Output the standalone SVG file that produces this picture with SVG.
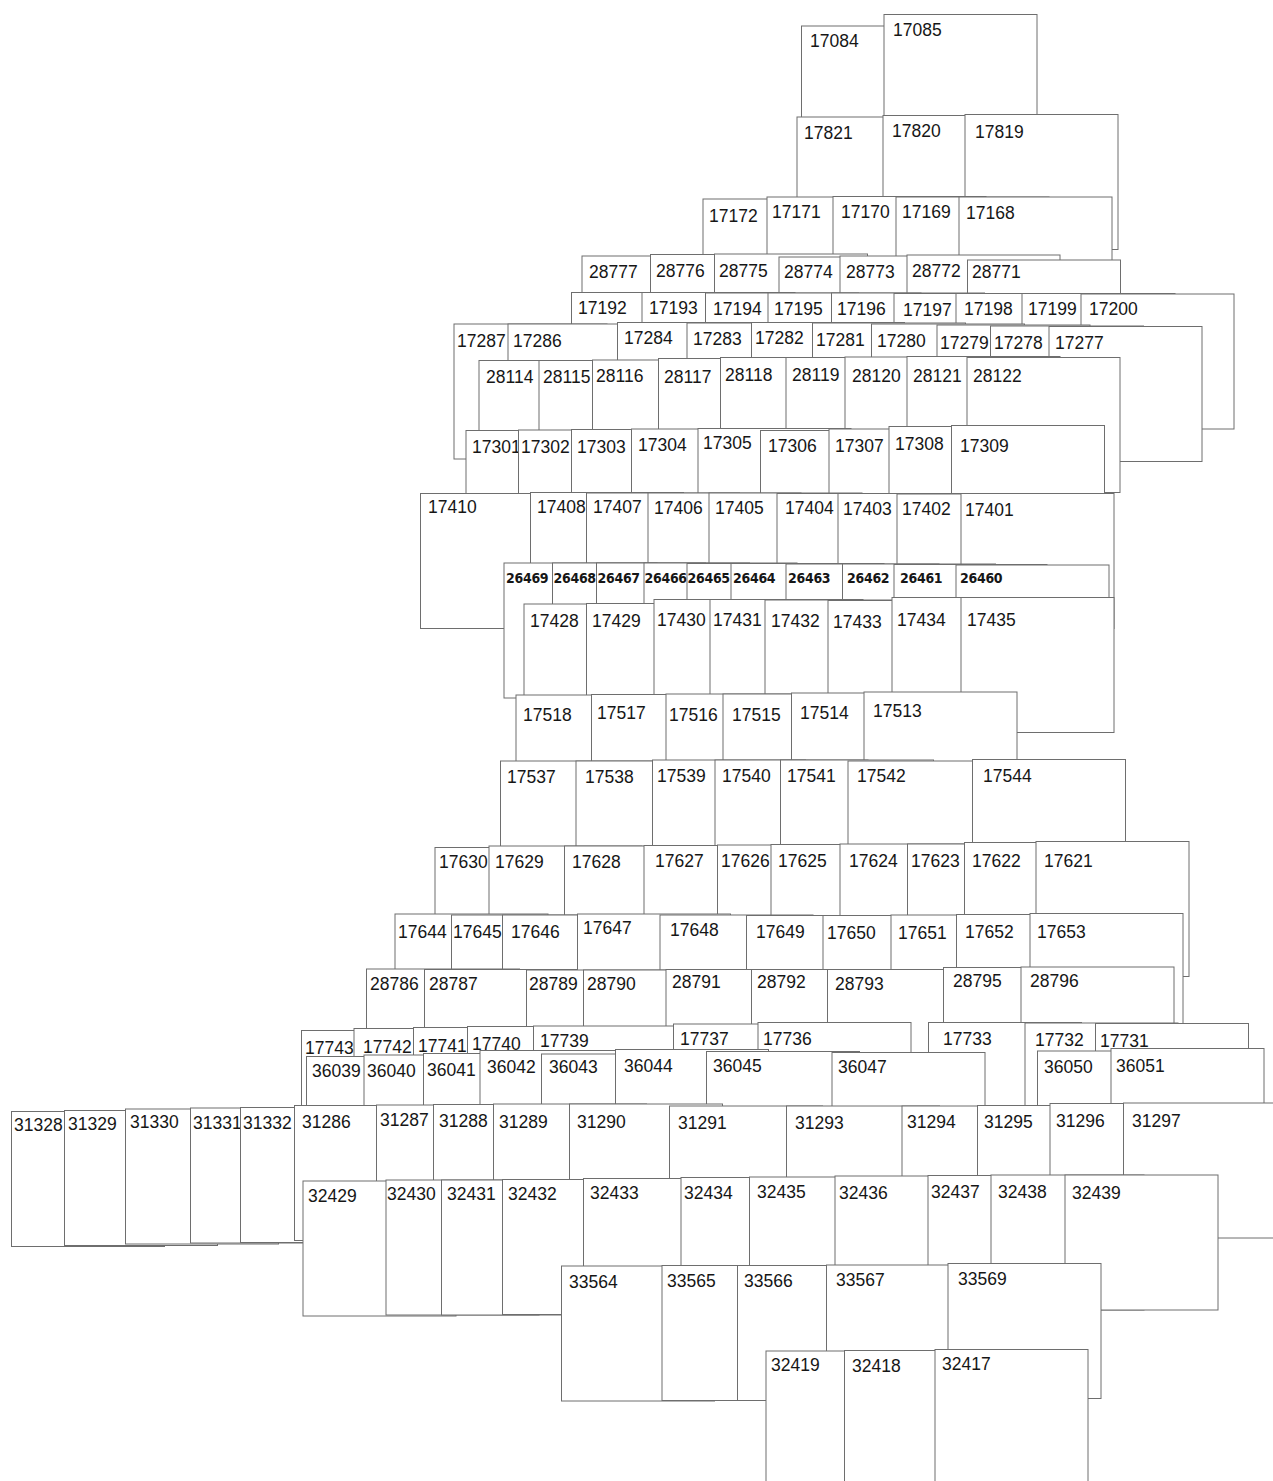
<svg xmlns="http://www.w3.org/2000/svg" xmlns:xlink="http://www.w3.org/1999/xlink" width="1273" height="1481" viewBox="0 0 1273 1481">
<style>
.fr{fill:#fff;stroke:#6e6e6e;stroke-width:1}
text{font-family:"Liberation Sans",Arial,sans-serif;font-size:17.5px;fill:#161616}
.s text{font-family:"DejaVu Sans Condensed","DejaVu Sans",sans-serif;font-stretch:condensed;font-weight:bold;font-size:14px;letter-spacing:-0.3px}
</style>
<defs><rect id="fr" class="fr" width="153" height="135"/></defs>
<rect width="1273" height="1481" fill="#fff"/>
<g id="row1">
<g id="n17084"><use href="#fr" x="801.5" y="26"/><text x="810" y="47">17084</text></g>
<g id="n17085"><use href="#fr" x="884" y="14.5"/><text x="893" y="36">17085</text></g>
</g>
<g id="row2">
<g id="n17821"><use href="#fr" x="797" y="117"/><text x="804" y="139">17821</text></g>
<g id="n17820"><use href="#fr" x="883" y="115.5"/><text x="892" y="137">17820</text></g>
<g id="n17819"><use href="#fr" x="965" y="114.5"/><text x="975" y="138">17819</text></g>
</g>
<g id="row3">
<g id="n17172"><use href="#fr" x="703" y="199"/><text x="709" y="222">17172</text></g>
<g id="n17171"><use href="#fr" x="767" y="197"/><text x="772" y="218">17171</text></g>
<g id="n17170"><use href="#fr" x="833" y="196.5"/><text x="841" y="218">17170</text></g>
<g id="n17169"><use href="#fr" x="896" y="197"/><text x="902" y="218">17169</text></g>
<g id="n17168"><use href="#fr" x="959" y="197"/><text x="966" y="219">17168</text></g>
</g>
<g id="row4">
<g id="n28777"><use href="#fr" x="582" y="256"/><text x="589" y="278">28777</text></g>
<g id="n28776"><use href="#fr" x="650.5" y="254.5"/><text x="656" y="277">28776</text></g>
<g id="n28775"><use href="#fr" x="714.5" y="254"/><text x="719" y="277">28775</text></g>
<g id="n28774"><use href="#fr" x="779" y="257"/><text x="784" y="278">28774</text></g>
<g id="n28773"><use href="#fr" x="840" y="256"/><text x="846" y="278">28773</text></g>
<g id="n28772"><use href="#fr" x="907" y="255"/><text x="912" y="277">28772</text></g>
<g id="n28771"><use href="#fr" x="967.5" y="260"/><text x="972" y="278">28771</text></g>
</g>
<g id="row5">
<g id="n17192"><use href="#fr" x="571.5" y="292.5"/><text x="578" y="314">17192</text></g>
<g id="n17193"><use href="#fr" x="642" y="292.5"/><text x="649" y="314">17193</text></g>
<g id="n17194"><use href="#fr" x="705.5" y="293"/><text x="713" y="315">17194</text></g>
<g id="n17195"><use href="#fr" x="768" y="293"/><text x="774" y="315">17195</text></g>
<g id="n17196"><use href="#fr" x="831.5" y="293"/><text x="837" y="315">17196</text></g>
<g id="n17197"><use href="#fr" x="894" y="293.5"/><text x="903" y="316">17197</text></g>
<g id="n17198"><use href="#fr" x="956" y="293.5"/><text x="964" y="315">17198</text></g>
<g id="n17199"><use href="#fr" x="1022" y="293.5"/><text x="1028" y="315">17199</text></g>
<g id="n17200"><use href="#fr" x="1081" y="294"/><text x="1089" y="315">17200</text></g>
</g>
<g id="row6">
<g id="n17287"><use href="#fr" x="454" y="324"/><text x="457" y="347">17287</text></g>
<g id="n17286"><use href="#fr" x="508" y="324"/><text x="513" y="347">17286</text></g>
<g id="n17284"><use href="#fr" x="617.5" y="322.5"/><text x="624" y="344">17284</text></g>
<g id="n17283"><use href="#fr" x="687" y="323"/><text x="693" y="345">17283</text></g>
<g id="n17282"><use href="#fr" x="751.5" y="322.5"/><text x="755" y="344">17282</text></g>
<g id="n17281"><use href="#fr" x="812.5" y="323"/><text x="816" y="346">17281</text></g>
<g id="n17280"><use href="#fr" x="871.5" y="324"/><text x="877" y="347">17280</text></g>
<g id="n17279"><use href="#fr" x="937" y="325"/><text x="940" y="349">17279</text></g>
<g id="n17278"><use href="#fr" x="990.5" y="326"/><text x="994" y="349">17278</text></g>
<g id="n17277"><use href="#fr" x="1049" y="326.5"/><text x="1055" y="349">17277</text></g>
</g>
<g id="row7">
<g id="n28114"><use href="#fr" x="479" y="360.5"/><text x="486" y="383">28114</text></g>
<g id="n28115"><use href="#fr" x="539" y="360.5"/><text x="543" y="383">28115</text></g>
<g id="n28116"><use href="#fr" x="592.5" y="360"/><text x="596" y="382">28116</text></g>
<g id="n28117"><use href="#fr" x="658.5" y="358.5"/><text x="664" y="383">28117</text></g>
<g id="n28118"><use href="#fr" x="720.5" y="357.5"/><text x="725" y="381">28118</text></g>
<g id="n28119"><use href="#fr" x="786" y="357.5"/><text x="792" y="381">28119</text></g>
<g id="n28120"><use href="#fr" x="845" y="357"/><text x="852" y="382">28120</text></g>
<g id="n28121"><use href="#fr" x="907" y="356.5"/><text x="913" y="382">28121</text></g>
<g id="n28122"><use href="#fr" x="967" y="357.5"/><text x="973" y="382">28122</text></g>
</g>
<g id="row8">
<g id="n17301"><use href="#fr" x="466" y="430.5"/><text x="472" y="453">17301</text></g>
<g id="n17302"><use href="#fr" x="518.5" y="430"/><text x="521" y="453">17302</text></g>
<g id="n17303"><use href="#fr" x="571.5" y="429.5"/><text x="577" y="453">17303</text></g>
<g id="n17304"><use href="#fr" x="631.5" y="429"/><text x="638" y="451">17304</text></g>
<g id="n17305"><use href="#fr" x="698" y="428.5"/><text x="703" y="449">17305</text></g>
<g id="n17306"><use href="#fr" x="760.5" y="430.5"/><text x="768" y="452">17306</text></g>
<g id="n17307"><use href="#fr" x="829" y="429"/><text x="835" y="452">17307</text></g>
<g id="n17308"><use href="#fr" x="889" y="426.5"/><text x="895" y="450">17308</text></g>
<g id="n17309"><use href="#fr" x="951.5" y="425.5"/><text x="960" y="452">17309</text></g>
</g>
<g id="row9">
<g id="n17410"><use href="#fr" x="420.5" y="493.5"/><text x="428" y="513">17410</text></g>
<g id="n17408"><use href="#fr" x="530.5" y="492.5"/><text x="537" y="513">17408</text></g>
<g id="n17407"><use href="#fr" x="586.5" y="493"/><text x="593" y="513">17407</text></g>
<g id="n17406"><use href="#fr" x="648" y="493"/><text x="654" y="514">17406</text></g>
<g id="n17405"><use href="#fr" x="709" y="493"/><text x="715" y="514">17405</text></g>
<g id="n17404"><use href="#fr" x="777" y="493.5"/><text x="785" y="514">17404</text></g>
<g id="n17403"><use href="#fr" x="838" y="493.5"/><text x="843" y="515">17403</text></g>
<g id="n17402"><use href="#fr" x="897" y="494"/><text x="902" y="515">17402</text></g>
<g id="n17401"><use href="#fr" x="961" y="493.5"/><text x="965" y="516">17401</text></g>
</g>
<g id="row10" class="s">
<g id="n26469"><use href="#fr" x="504" y="563"/><text x="506" y="583">26469</text></g>
<g id="n26468"><use href="#fr" x="552.5" y="563"/><text x="553.5" y="583">26468</text></g>
<g id="n26467"><use href="#fr" x="596.5" y="563"/><text x="597.5" y="583">26467</text></g>
<g id="n26466"><use href="#fr" x="644" y="563"/><text x="644.5" y="583">26466</text></g>
<g id="n26465"><use href="#fr" x="687" y="563.5"/><text x="687.5" y="583">26465</text></g>
<g id="n26464"><use href="#fr" x="731" y="563.5"/><text x="733" y="583">26464</text></g>
<g id="n26463"><use href="#fr" x="786" y="564"/><text x="788" y="583">26463</text></g>
<g id="n26462"><use href="#fr" x="842.5" y="564"/><text x="847" y="583">26462</text></g>
<g id="n26461"><use href="#fr" x="894" y="564.5"/><text x="900" y="583">26461</text></g>
<g id="n26460"><use href="#fr" x="956" y="565"/><text x="960" y="583">26460</text></g>
</g>
<g id="row11">
<g id="n17428"><use href="#fr" x="524" y="604"/><text x="530" y="627">17428</text></g>
<g id="n17429"><use href="#fr" x="586.5" y="603.5"/><text x="592" y="627">17429</text></g>
<g id="n17430"><use href="#fr" x="654" y="599.5"/><text x="657" y="626">17430</text></g>
<g id="n17431"><use href="#fr" x="710" y="599.5"/><text x="713" y="626">17431</text></g>
<g id="n17432"><use href="#fr" x="765" y="600"/><text x="771" y="627">17432</text></g>
<g id="n17433"><use href="#fr" x="828" y="600.5"/><text x="833" y="628">17433</text></g>
<g id="n17434"><use href="#fr" x="892" y="597.5"/><text x="897" y="626">17434</text></g>
<g id="n17435"><use href="#fr" x="961" y="597.5"/><text x="967" y="626">17435</text></g>
</g>
<g id="row12">
<g id="n17518"><use href="#fr" x="516" y="695"/><text x="523" y="721">17518</text></g>
<g id="n17517"><use href="#fr" x="591.5" y="694.5"/><text x="597" y="719">17517</text></g>
<g id="n17516"><use href="#fr" x="666" y="694"/><text x="669" y="721">17516</text></g>
<g id="n17515"><use href="#fr" x="723" y="694"/><text x="732" y="721">17515</text></g>
<g id="n17514"><use href="#fr" x="791.5" y="693"/><text x="800" y="719">17514</text></g>
<g id="n17513"><use href="#fr" x="864" y="692"/><text x="873" y="717">17513</text></g>
</g>
<g id="row13">
<g id="n17537"><use href="#fr" x="500.5" y="761"/><text x="507" y="783">17537</text></g>
<g id="n17538"><use href="#fr" x="576" y="761"/><text x="585" y="783">17538</text></g>
<g id="n17539"><use href="#fr" x="652.5" y="760"/><text x="657" y="782">17539</text></g>
<g id="n17540"><use href="#fr" x="715" y="760"/><text x="722" y="782">17540</text></g>
<g id="n17541"><use href="#fr" x="780.5" y="760"/><text x="787" y="782">17541</text></g>
<g id="n17542"><use href="#fr" x="848" y="761"/><text x="857" y="782">17542</text></g>
<g id="n17544"><use href="#fr" x="972.5" y="759.5"/><text x="983" y="782">17544</text></g>
</g>
<g id="row14">
<g id="n17630"><use href="#fr" x="435" y="847.5"/><text x="439" y="868">17630</text></g>
<g id="n17629"><use href="#fr" x="489" y="846"/><text x="495" y="868">17629</text></g>
<g id="n17628"><use href="#fr" x="564.5" y="846"/><text x="572" y="868">17628</text></g>
<g id="n17627"><use href="#fr" x="644" y="845.5"/><text x="655" y="867">17627</text></g>
<g id="n17626"><use href="#fr" x="717.5" y="845"/><text x="721" y="867">17626</text></g>
<g id="n17625"><use href="#fr" x="771" y="844.5"/><text x="778" y="867">17625</text></g>
<g id="n17624"><use href="#fr" x="840" y="844"/><text x="849" y="867">17624</text></g>
<g id="n17623"><use href="#fr" x="907.5" y="844"/><text x="911" y="867">17623</text></g>
<g id="n17622"><use href="#fr" x="964.5" y="842.5"/><text x="972" y="867">17622</text></g>
<g id="n17621"><use href="#fr" x="1036" y="841.5"/><text x="1044" y="867">17621</text></g>
</g>
<g id="row15">
<g id="n17644"><use href="#fr" x="395" y="914"/><text x="398" y="938">17644</text></g>
<g id="n17645"><use href="#fr" x="451.5" y="915"/><text x="453" y="938">17645</text></g>
<g id="n17646"><use href="#fr" x="502.5" y="915"/><text x="511" y="938">17646</text></g>
<g id="n17647"><use href="#fr" x="577.5" y="914"/><text x="583" y="934">17647</text></g>
<g id="n17648"><use href="#fr" x="660" y="915"/><text x="670" y="936">17648</text></g>
<g id="n17649"><use href="#fr" x="746.5" y="915.5"/><text x="756" y="938">17649</text></g>
<g id="n17650"><use href="#fr" x="823" y="915.5"/><text x="827" y="939">17650</text></g>
<g id="n17651"><use href="#fr" x="891" y="915"/><text x="898" y="939">17651</text></g>
<g id="n17652"><use href="#fr" x="956.5" y="914.5"/><text x="965" y="938">17652</text></g>
<g id="n17653"><use href="#fr" x="1030" y="913.5"/><text x="1037" y="938">17653</text></g>
</g>
<g id="row16">
<g id="n28786"><use href="#fr" x="366.5" y="969"/><text x="370" y="990">28786</text></g>
<g id="n28787"><use href="#fr" x="424.5" y="969.5"/><text x="429" y="990">28787</text></g>
<g id="n28789"><use href="#fr" x="526.5" y="970"/><text x="529" y="990">28789</text></g>
<g id="n28790"><use href="#fr" x="583.5" y="970"/><text x="587" y="990">28790</text></g>
<g id="n28791"><use href="#fr" x="666" y="969.5"/><text x="672" y="988">28791</text></g>
<g id="n28792"><use href="#fr" x="751.5" y="969.5"/><text x="757" y="988">28792</text></g>
<g id="n28793"><use href="#fr" x="827.5" y="969.5"/><text x="835" y="990">28793</text></g>
<g id="n28795"><use href="#fr" x="943.5" y="967.5"/><text x="953" y="987">28795</text></g>
<g id="n28796"><use href="#fr" x="1021" y="967"/><text x="1030" y="987">28796</text></g>
</g>
<g id="row17">
<g id="n17743"><use href="#fr" x="301.5" y="1030.5"/><text x="305" y="1054">17743</text></g>
<g id="n17742"><use href="#fr" x="354" y="1028.5"/><text x="363" y="1053">17742</text></g>
<g id="n17741"><use href="#fr" x="413.5" y="1027.5"/><text x="418" y="1052">17741</text></g>
<g id="n17740"><use href="#fr" x="467.5" y="1026.5"/><text x="472" y="1050">17740</text></g>
<g id="n17739"><use href="#fr" x="533.5" y="1026"/><text x="540" y="1047">17739</text></g>
<g id="n17737"><use href="#fr" x="673.5" y="1024"/><text x="680" y="1045">17737</text></g>
<g id="n17736"><use href="#fr" x="758" y="1022.5"/><text x="763" y="1045">17736</text></g>
<g id="n17733"><use href="#fr" x="928.5" y="1022.5"/><text x="943" y="1045">17733</text></g>
<g id="n17732"><use href="#fr" x="1025" y="1023"/><text x="1035" y="1046">17732</text></g>
<g id="n17731"><use href="#fr" x="1095.5" y="1023.5"/><text x="1100" y="1047">17731</text></g>
</g>
<g id="row18">
<g id="n36039"><use href="#fr" x="306.5" y="1056.5"/><text x="312" y="1077">36039</text></g>
<g id="n36040"><use href="#fr" x="364" y="1055"/><text x="367" y="1077">36040</text></g>
<g id="n36041"><use href="#fr" x="423.5" y="1053.5"/><text x="427" y="1076">36041</text></g>
<g id="n36042"><use href="#fr" x="480" y="1050.5"/><text x="487" y="1073">36042</text></g>
<g id="n36043"><use href="#fr" x="541.5" y="1054"/><text x="549" y="1073">36043</text></g>
<g id="n36044"><use href="#fr" x="615.5" y="1049.5"/><text x="624" y="1072">36044</text></g>
<g id="n36045"><use href="#fr" x="706.5" y="1051.5"/><text x="713" y="1072">36045</text></g>
<g id="n36047"><use href="#fr" x="832" y="1052.5"/><text x="838" y="1073">36047</text></g>
<g id="n36050"><use href="#fr" x="1037.5" y="1051"/><text x="1044" y="1073">36050</text></g>
<g id="n36051"><use href="#fr" x="1111" y="1048.5"/><text x="1116" y="1072">36051</text></g>
</g>
<g id="row19">
<g id="n31328"><use href="#fr" x="11.5" y="1111.5"/><text x="14" y="1131">31328</text></g>
<g id="n31329"><use href="#fr" x="64.5" y="1110.5"/><text x="68" y="1130">31329</text></g>
<g id="n31330"><use href="#fr" x="125.5" y="1109"/><text x="130" y="1128">31330</text></g>
<g id="n31331"><use href="#fr" x="190.5" y="1108"/><text x="193" y="1129">31331</text></g>
<g id="n31332"><use href="#fr" x="240.5" y="1107.5"/><text x="243" y="1129">31332</text></g>
<g id="n31286"><use href="#fr" x="294.5" y="1105.5"/><text x="302" y="1128">31286</text></g>
<g id="n31287"><use href="#fr" x="376.5" y="1105"/><text x="380" y="1126">31287</text></g>
<g id="n31288"><use href="#fr" x="433.5" y="1104.5"/><text x="439" y="1127">31288</text></g>
<g id="n31289"><use href="#fr" x="493.5" y="1104"/><text x="499" y="1128">31289</text></g>
<g id="n31290"><use href="#fr" x="569.5" y="1104"/><text x="577" y="1128">31290</text></g>
<g id="n31291"><use href="#fr" x="669.5" y="1106"/><text x="678" y="1129">31291</text></g>
<g id="n31293"><use href="#fr" x="786.5" y="1106"/><text x="795" y="1129">31293</text></g>
<g id="n31294"><use href="#fr" x="902" y="1106"/><text x="907" y="1128">31294</text></g>
<g id="n31295"><use href="#fr" x="977.5" y="1105.5"/><text x="984" y="1128">31295</text></g>
<g id="n31296"><use href="#fr" x="1050" y="1103.5"/><text x="1056" y="1127">31296</text></g>
<g id="n31297"><use href="#fr" x="1123.5" y="1103"/><text x="1132" y="1127">31297</text></g>
</g>
<g id="row20">
<g id="n32429"><use href="#fr" x="303" y="1181"/><text x="308" y="1202">32429</text></g>
<g id="n32430"><use href="#fr" x="386" y="1180"/><text x="387" y="1200">32430</text></g>
<g id="n32431"><use href="#fr" x="441.5" y="1180"/><text x="447" y="1200">32431</text></g>
<g id="n32432"><use href="#fr" x="502.5" y="1179.5"/><text x="508" y="1200">32432</text></g>
<g id="n32433"><use href="#fr" x="583.5" y="1178.5"/><text x="590" y="1199">32433</text></g>
<g id="n32434"><use href="#fr" x="681" y="1177.5"/><text x="684" y="1199">32434</text></g>
<g id="n32435"><use href="#fr" x="749.5" y="1177"/><text x="757" y="1198">32435</text></g>
<g id="n32436"><use href="#fr" x="835" y="1176"/><text x="839" y="1199">32436</text></g>
<g id="n32437"><use href="#fr" x="928" y="1175.5"/><text x="931" y="1198">32437</text></g>
<g id="n32438"><use href="#fr" x="991" y="1175"/><text x="998" y="1198">32438</text></g>
<g id="n32439"><use href="#fr" x="1065" y="1175"/><text x="1072" y="1199">32439</text></g>
</g>
<g id="row21">
<g id="n33564"><use href="#fr" x="561.5" y="1266"/><text x="569" y="1288">33564</text></g>
<g id="n33565"><use href="#fr" x="662" y="1265.5"/><text x="667" y="1287">33565</text></g>
<g id="n33566"><use href="#fr" x="737.5" y="1265.5"/><text x="744" y="1287">33566</text></g>
<g id="n33567"><use href="#fr" x="826.5" y="1265"/><text x="836" y="1286">33567</text></g>
<g id="n33569"><use href="#fr" x="948" y="1263.5"/><text x="958" y="1285">33569</text></g>
</g>
<g id="row22">
<g id="n32419"><use href="#fr" x="766" y="1351"/><text x="771" y="1371">32419</text></g>
<g id="n32418"><use href="#fr" x="844.5" y="1350.5"/><text x="852" y="1372">32418</text></g>
<g id="n32417"><use href="#fr" x="935" y="1349.5"/><text x="942" y="1370">32417</text></g>
</g>
</svg>
